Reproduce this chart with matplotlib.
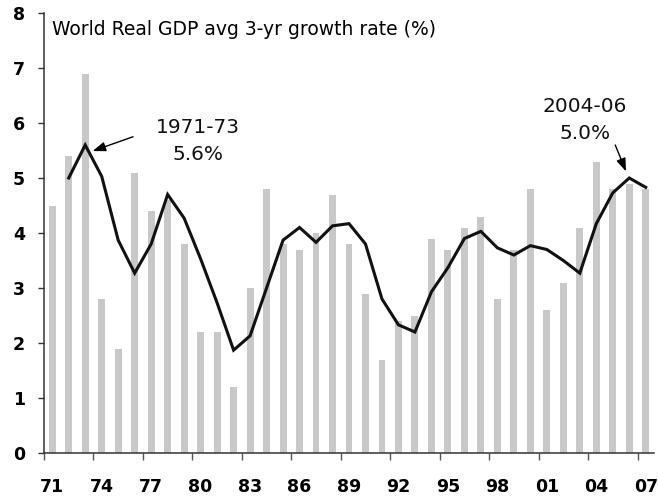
import matplotlib
matplotlib.use("Agg")
import matplotlib.pyplot as plt
import numpy as np

years = list(range(1971, 2008))
growth = [4.5, 5.4, 6.9, 2.8, 1.9, 5.1, 4.4, 4.6, 3.8, 2.2, 2.2, 1.2, 3.0, 4.8,
          3.8, 3.7, 4.0, 4.7, 3.8, 2.9, 1.7, 2.4, 2.5, 3.9, 3.7, 4.1, 4.3, 2.8,
          3.7, 4.8, 2.6, 3.1, 4.1, 5.3, 4.8, 4.9, 4.8]
avg_years = list(range(1972, 2008))
avg3 = [5.0, 5.6, 5.03, 3.87, 3.27, 3.8, 4.7, 4.27, 3.53, 2.73, 1.87, 2.13, 3.0,
        3.87, 4.1, 3.83, 4.13, 4.17, 3.8, 2.8, 2.33, 2.2, 2.93, 3.37, 3.9, 4.03,
        3.73, 3.6, 3.77, 3.7, 3.5, 3.27, 4.17, 4.73, 5.0, 4.83]
label_years = ["71", "74", "77", "80", "83", "86", "89", "92", "95", "98", "01", "04", "07"]
y_ticks = [0, 1, 2, 3, 4, 5, 6, 7, 8]
title = "World Real GDP avg 3-yr growth rate (%)"

fig = plt.figure(figsize=(6.58, 4.99), dpi=100)
ax = fig.add_axes([44/658, 1-453/499, 610/658, 440/499])

x = np.arange(len(years))
ax.bar(x, growth, width=0.42, color="#c8c8c8", zorder=1)
xa = np.array([years.index(y) for y in avg_years])
ax.plot(xa, avg3, color="#111111", lw=2.2, zorder=3, solid_joinstyle="miter")

ax.set_xlim(-0.5, len(years) - 0.5)
ax.set_ylim(0, 8)
for s in ["top", "right"]:
    ax.spines[s].set_visible(False)
for s in ["left", "bottom"]:
    ax.spines[s].set_color("#333333")
    ax.spines[s].set_linewidth(1.1)

ax.set_yticks(y_ticks)
ax.set_yticklabels([str(v) for v in y_ticks], fontsize=12.5, fontweight="bold")
ax.tick_params(axis="y", direction="out", length=4.5, width=1.0, color="#333333", pad=9)

major = np.arange(-0.5, len(years), 3)
ax.set_xticks(major)
ax.set_xticklabels([])
ax.tick_params(axis="x", which="major", direction="out", length=5, width=1.0, color="#555555")
minor = [years.index(1900 + int(l)) if int(l) > 50 else years.index(2000 + int(l)) for l in label_years]
ax.set_xticks(minor, minor=True)
ax.set_xticklabels(label_years, minor=True, fontsize=12.5, fontweight="bold")
ax.tick_params(axis="x", which="minor", length=0, pad=18)

ax.text(0.013, 0.985, title, transform=ax.transAxes, fontsize=13.5, va="top", ha="left")

astyle = "-|>,head_length=0.6,head_width=0.22"
ax.text(8.83, 5.67, "1971-73\n5.6%", ha="center", va="center", fontsize=14.5,
        linespacing=1.5, color="#111111")
ax.annotate("", xy=(2.45, 5.49), xytext=(4.9, 5.75),
            arrowprops=dict(arrowstyle=astyle, color="black", lw=1.0, mutation_scale=13,
                            shrinkA=0, shrinkB=0), zorder=5)
ax.text(32.29, 6.05, "2004-06\n5.0%", ha="center", va="center", fontsize=14.5,
        linespacing=1.5, color="#111111")
ax.annotate("", xy=(34.8, 5.12), xytext=(34.15, 5.6),
            arrowprops=dict(arrowstyle=astyle, color="black", lw=1.0, mutation_scale=13,
                            shrinkA=0, shrinkB=0), zorder=5)

fig.savefig("out.png", dpi=100)
